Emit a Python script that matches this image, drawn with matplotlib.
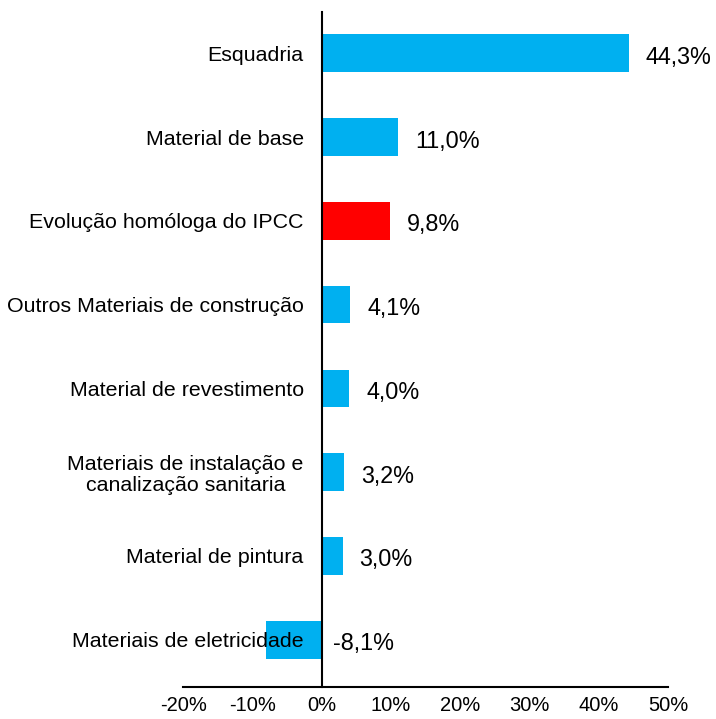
import matplotlib
matplotlib.use("Agg")
import matplotlib.pyplot as plt
from matplotlib.ticker import FuncFormatter

plt.rcParams["font.family"] = ["Liberation Sans", "DejaVu Sans"]

# data, top to bottom as in the chart
categories = [
    "Esquadria",
    "Material de base",
    "Evolução homóloga do IPCC",
    "Outros Materiais de construção",
    "Material de revestimento",
    "Materiais de instalação e\ncanalização sanitaria",
    "Material de pintura",
    "Materiais de eletricidade",
]
values = [44.3, 11.0, 9.8, 4.1, 4.0, 3.2, 3.0, -8.1]
colors = ["#00B0F0", "#00B0F0", "#FF0000", "#00B0F0",
          "#00B0F0", "#00B0F0", "#00B0F0", "#00B0F0"]
xticks = [-20, -10, 0, 10, 20, 30, 40, 50]

fig = plt.figure(figsize=(7.16, 7.19), dpi=100)
ax = fig.add_axes([0.256, 0.045, 0.677, 0.938])

# spine at zero first (moving it resets the ticks)
ax.spines["left"].set_position(("data", 0))
ax.spines["top"].set_visible(False)
ax.spines["right"].set_visible(False)
for s in ("left", "bottom"):
    ax.spines[s].set_linewidth(1.5)
    ax.spines[s].set_zorder(3)

n = len(categories)
ypos = [n - 1 - i for i in range(n)]
ax.barh(ypos, values, height=0.45, color=colors, zorder=1)

# value labels to the right of each bar (negative ones right of zero)
for y, v in zip(ypos, values):
    x = max(v, 0)
    ax.annotate(f"{v:.1f}%".replace(".", ","), (x, y), xytext=(17 if v > 0 else 11, -4),
                textcoords="offset pixels", ha="left", va="center", fontsize=16.8)

ax.set_xlim(-20, 50)
ax.set_ylim(-0.56, 7.49)
ax.set_xticks(xticks)
ax.xaxis.set_major_formatter(FuncFormatter(lambda v, p: f"{v:.0f}%"))
ax.set_yticks(ypos)
ax.set_yticklabels(categories, fontsize=15.4, multialignment="center", linespacing=1.1)

ax.tick_params(axis="y", length=0, pad=13)
ax.tick_params(axis="x", length=0, pad=7, labelsize=14.5)

fig.savefig("out.png", dpi=100)
